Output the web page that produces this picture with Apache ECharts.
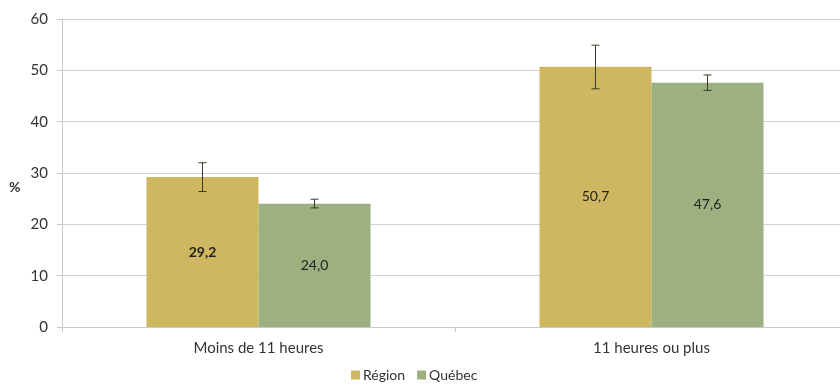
<!DOCTYPE html>
<html><head><meta charset="utf-8">
<script src="https://cdn.jsdelivr.net/npm/echarts@6/dist/echarts.min.js"></script>
<style>html,body{margin:0;padding:0;background:#fff;overflow:hidden;width:840px;height:387px}#c{width:848px;height:387px}</style>
</head><body><div id="c"></div>
<script>
const categories = ['Moins de 11 heures', '11 heures ou plus'];
const regionValues = [29.2, 50.7];
const quebecValues = [24.0, 47.6];
const regionLow = [26.4, 46.4];
const regionHigh = [32.0, 54.9];
const quebecLow = [23.2, 46.1];
const quebecHigh = [24.9, 49.1];
const regionBold = [true, false];
const yTicks = [0, 10, 20, 30, 40, 50, 60];

const FONT = 'Lato';
const chart = echarts.init(document.getElementById('c'));

function errSeries(name, low, high, idx) {
  return {
    type: 'custom', name: name + '_err', silent: true, z: 10,
    data: categories.map((c, i) => [i, low[i], high[i]]),
    renderItem: function (params, api) {
      const ci = api.value(0);
      const lo = api.coord([ci, api.value(1)]);
      const hi = api.coord([ci, api.value(2)]);
      const bw = api.size([1, 0])[0];
      const barW = bw * 0.285;
      const x = lo[0] + (idx === 0 ? -barW / 2 : barW / 2);
      const cap = 4;
      const st = { stroke: '#3a3a2a', lineWidth: 1 };
      return { type: 'group', children: [
        { type: 'line', shape: { x1: x, y1: hi[1], x2: x, y2: lo[1] }, style: st },
        { type: 'line', shape: { x1: x - cap, y1: hi[1], x2: x + cap, y2: hi[1] }, style: st },
        { type: 'line', shape: { x1: x - cap, y1: lo[1], x2: x + cap, y2: lo[1] }, style: st }
      ]};
    }
  };
}

chart.setOption({
  animation: false,
  textStyle: { fontFamily: FONT },
  grid: { left: 62, top: 19, width: 786, height: 308, containLabel: false },
  legend: {
    bottom: 0, left: 346, itemWidth: 9, itemHeight: 9, itemGap: 12,
    icon: 'rect',
    textStyle: { fontFamily: FONT, fontSize: 14, color: '#333', padding: [0, 0, 0, -2] },
    data: ['Région', 'Québec']
  },
  graphic: [{ type: 'text', left: 9, top: 180, style: { text: '%', font: 'bold 14px ' + FONT, fill: '#333' } }],
  xAxis: {
    type: 'category', data: categories,
    axisLine: { lineStyle: { color: '#c8c8c8' } },
    axisTick: { show: true, length: 5, lineStyle: { color: '#c8c8c8' } },
    axisLabel: { color: '#333', fontSize: 15, margin: 14, fontFamily: FONT },
    splitLine: { show: false }
  },
  yAxis: {
    type: 'value', min: 0, max: 60, interval: 10,
    axisLine: { show: true, lineStyle: { color: '#c8c8c8' } },
    axisTick: { show: true, length: 5, lineStyle: { color: '#c8c8c8' } },
    axisLabel: { color: '#333', fontSize: 15, margin: 14, fontFamily: FONT,
      formatter: v => yTicks.includes(v) ? String(v) : '' },
    splitLine: { lineStyle: { color: '#d0d0d0' } }
  },
  series: [
    {
      name: 'Région', type: 'bar', barWidth: '28.5%', barGap: '0%',
      itemStyle: { color: '#CFB762' },
      label: { show: true, position: 'inside', color: '#222', fontSize: 14, fontFamily: FONT,
        formatter: p => p.value.toFixed(1).replace('.', ',') },
      data: regionValues.map((v, i) => ({ value: v, label: { fontWeight: regionBold[i] ? 'bold' : 'normal' } }))
    },
    {
      name: 'Québec', type: 'bar', barWidth: '28.5%', barGap: '0%',
      itemStyle: { color: '#9CB080' },
      label: { show: true, position: 'inside', color: '#222', fontSize: 14, fontFamily: FONT,
        formatter: p => p.value.toFixed(1).replace('.', ',') },
      data: quebecValues
    },
    errSeries('Région', regionLow, regionHigh, 0),
    errSeries('Québec', quebecLow, quebecHigh, 1)
  ]
});
</script></body></html>
